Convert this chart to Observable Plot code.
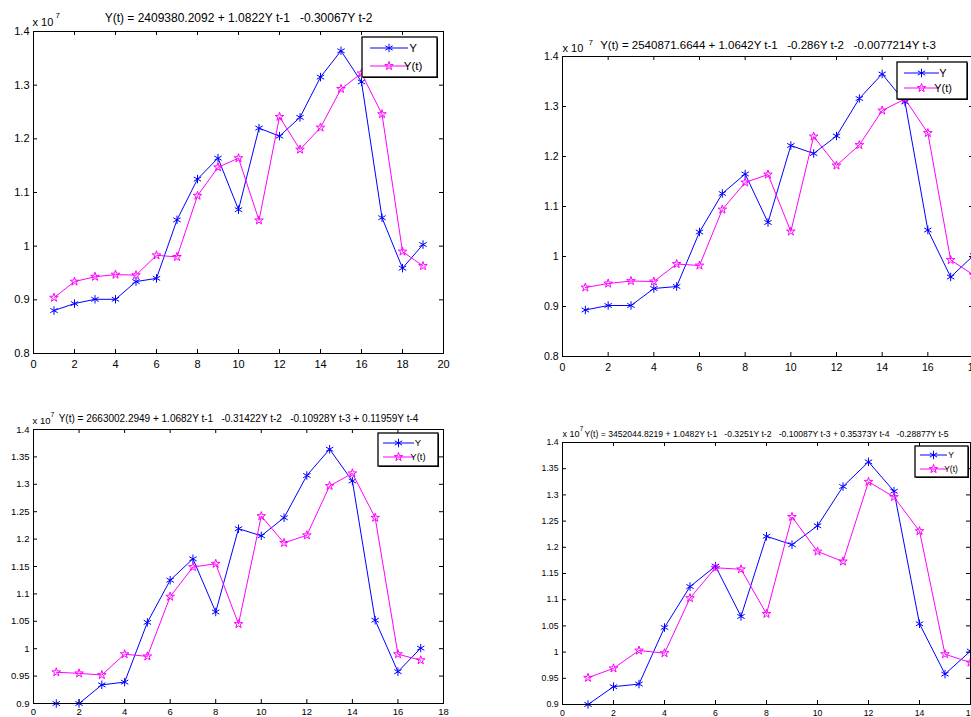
<!DOCTYPE html>
<html><head><meta charset="utf-8">
<script src="https://cdn.jsdelivr.net/npm/d3@7"></script>
<script src="https://cdn.jsdelivr.net/npm/@observablehq/plot@0.6"></script>
<style>
html,body{margin:0;padding:0;background:#fff;overflow:hidden;}
#wrap{position:relative;width:971px;height:717px;overflow:hidden;background:#fff;}
#wrap svg{position:absolute;}
#wrap svg text{white-space:pre;}
</style></head><body><div id="wrap"></div>
<script>
const FONT = "'Liberation Sans', Arial, Helvetica, sans-serif";
const seriesNames = ["Y", "Y(t)"];
const seriesColors = ["#0000ff", "#ff00ff"];
const exponentBase = "x 10";
const exponent = "7";

// Panel 1 (lag 2)
const title1 = "Y(t) = 2409380.2092 + 1.0822Y t-1   -0.30067Y t-2";
const Y1  = [0.880,0.893,0.901,0.901,0.934,0.940,1.049,1.125,1.164,1.068,1.220,1.205,1.240,1.315,1.364,1.306,1.053,0.959,1.003];
const Yt1 = [0.904,0.934,0.943,0.947,0.946,0.983,0.980,1.094,1.147,1.164,1.048,1.241,1.180,1.221,1.293,1.322,1.246,0.990,0.963];
const xTicks1 = [0,2,4,6,8,10,12,14,16,18,20];
const yTicks1 = [0.8,0.9,1.0,1.1,1.2,1.3,1.4];

// Panel 2 (lag 3)
const title2 = "Y(t) = 2540871.6644 + 1.0642Y t-1   -0.286Y t-2   -0.0077214Y t-3";
const Y2  = [0.893,0.902,0.902,0.936,0.940,1.049,1.126,1.165,1.068,1.222,1.206,1.241,1.316,1.365,1.309,1.053,0.959,1.002];
const Yt2 = [0.938,0.946,0.951,0.950,0.985,0.982,1.094,1.148,1.164,1.050,1.240,1.182,1.223,1.292,1.315,1.247,0.993,0.963];
const xTicks2 = [0,2,4,6,8,10,12,14,16,18];
const yTicks2 = [0.8,0.9,1.0,1.1,1.2,1.3,1.4];

// Panel 3 (lag 4)
const title3 = "Y(t) = 2663002.2949 + 1.0682Y t-1   -0.31422Y t-2   -0.10928Y t-3 + 0.11959Y t-4";
const Y3  = [0.900,0.900,0.934,0.939,1.048,1.125,1.164,1.067,1.219,1.206,1.239,1.316,1.364,1.306,1.052,0.958,1.001];
const Yt3 = [0.957,0.955,0.952,0.990,0.986,1.095,1.149,1.155,1.045,1.242,1.193,1.207,1.297,1.320,1.239,0.990,0.979];
const xTicks3 = [0,2,4,6,8,10,12,14,16,18];
const yTicks3 = [0.9,0.95,1.0,1.05,1.1,1.15,1.2,1.25,1.3,1.35,1.4];

// Panel 4 (lag 5)
const title4 = "Y(t) = 3452044.8219 + 1.0482Y t-1   -0.3251Y t-2   -0.10087Y t-3 + 0.35373Y t-4   -0.28877Y t-5";
const Y4  = [0.900,0.934,0.939,1.047,1.125,1.164,1.068,1.221,1.205,1.241,1.316,1.363,1.307,1.054,0.958,1.002];
const Yt4 = [0.951,0.969,1.003,0.998,1.103,1.161,1.158,1.073,1.258,1.192,1.173,1.325,1.296,1.231,0.996,0.980];
const xTicks4 = [0,2,4,6,8,10,12,14,16];
const yTicks4 = [0.9,0.95,1.0,1.05,1.1,1.15,1.2,1.25,1.3,1.35,1.4];

const wrap = document.getElementById("wrap");
const fmtY = d => String(+d.toFixed(2));

function panel(c) {
  const fw = c.width - c.mL - c.mR, fh = c.height - c.mT - c.mB;
  const tl = 4;
  const svg = Plot.plot({
    width: c.width, height: c.height,
    marginLeft: c.mL, marginTop: c.mT, marginRight: c.mR, marginBottom: c.mB,
    style: {fontFamily: FONT, fontSize: c.tickFont + "px", background: "transparent", overflow: "visible", maxWidth: "none", color: "#000"},
    x: {domain: c.xDomain},
    y: {domain: c.yDomain},
    marks: [
      Plot.ruleX(c.xTicks, {x: d => d, insetBottom: fh - tl, stroke: "#000"}),
      Plot.ruleX(c.xTicks, {x: d => d, insetTop: fh - tl, stroke: "#000"}),
      Plot.ruleY(c.yTicks, {y: d => d, insetRight: fw - tl, stroke: "#000"}),
      Plot.ruleY(c.yTicks, {y: d => d, insetLeft: fw - tl, stroke: "#000"}),
      Plot.axisX(c.xTicks, {tickSize: 0, tickPadding: c.xPad, tickFormat: d => String(d), label: null, fontSize: c.tickFont, fill: "#000"}),
      Plot.axisY(c.yTicks, {tickSize: 0, tickPadding: 4, tickFormat: fmtY, label: null, fontSize: c.tickFont, fill: "#000"}),
      Plot.line(c.Y, {x: (d, i) => i + 1, y: d => d, stroke: seriesColors[0], strokeWidth: 1}),
      Plot.dot(c.Y, {x: (d, i) => i + 1, y: d => d, symbol: "asterisk", r: 4, stroke: seriesColors[0], strokeWidth: 1}),
      Plot.line(c.Yt, {x: (d, i) => i + 1, y: d => d, stroke: seriesColors[1], strokeWidth: 1}),
      Plot.dot(c.Yt, {x: (d, i) => i + 1, y: d => d, symbol: "star", r: 2.7, stroke: seriesColors[1], fill: "none", strokeWidth: 1}),
      Plot.frame({stroke: "#000", strokeWidth: 1}),
      Plot.text([c.title], {text: d => d, frameAnchor: "top", lineAnchor: "bottom", dy: c.titleDy, fontSize: c.titleSize, fill: "#000"}),
      Plot.text([exponentBase], {text: d => d, frameAnchor: "top-left", textAnchor: "start", lineAnchor: "bottom", dx: c.eDx, dy: c.eDy, fontSize: c.eSize, fill: "#000"}),
      Plot.text([exponent], {text: d => d, frameAnchor: "top-left", textAnchor: "start", lineAnchor: "bottom", dx: c.pDx, dy: c.pDy, fontSize: c.pSize, fill: "#000"})
    ]
  });
  svg.style.left = c.left + "px";
  svg.style.top = c.top + "px";
  // legend
  const L = c.legend;
  const g = d3.select(svg).append("g");
  g.append("rect").attr("x", L.x + 1).attr("y", L.y + 1).attr("width", L.w).attr("height", L.h)
    .attr("fill", "#000");
  g.append("rect").attr("x", L.x).attr("y", L.y).attr("width", L.w).attr("height", L.h)
    .attr("fill", "#fff").attr("stroke", "#000").attr("stroke-width", 1.3);
  const syms = [d3.symbol(d3.symbolAsterisk, Math.PI * 16), d3.symbol(d3.symbolStar, Math.PI * 2.7 * 2.7)];
  seriesNames.forEach((name, i) => {
    const yy = L.rows[i];
    g.append("line").attr("x1", L.lx1).attr("x2", L.lx2).attr("y1", yy).attr("y2", yy)
      .attr("stroke", seriesColors[i]).attr("stroke-width", 1);
    g.append("path").attr("d", syms[i]()).attr("transform", `translate(${(L.lx1 + L.lx2) / 2},${yy})`)
      .attr("fill", "none").attr("stroke", seriesColors[i]).attr("stroke-width", 1);
    g.append("text").attr("x", L.tx).attr("y", yy).attr("dy", "0.35em").attr("font-size", L.font)
      .attr("fill", "#000").text(name);
  });
  wrap.appendChild(svg);
}

panel({left: 0, top: 0, width: 460, height: 380, mL: 33, mT: 31, mR: 17, mB: 27,
  xDomain: [0, 20], yDomain: [0.8, 1.4], xTicks: xTicks1, yTicks: yTicks1, Y: Y1, Yt: Yt1,
  title: title1, titleSize: 12, titleDy: -10, tickFont: 11, xPad: 7,
  eDx: -1, eDy: -6, eSize: 11, pDx: 22, pDy: -14, pSize: 8,
  legend: {x: 362, y: 37, w: 75, h: 40, rows: [48, 66], lx1: 370, lx2: 408, tx: 413, font: 11.5}});

panel({left: 530, top: 30, width: 460, height: 350, mL: 32, mT: 26, mR: 17, mB: 24,
  xDomain: [0, 18], yDomain: [0.8, 1.4], xTicks: xTicks2, yTicks: yTicks2, Y: Y2, Yt: Yt2,
  title: title2, titleSize: 11.5, titleDy: -8, tickFont: 10.5, xPad: 7,
  eDx: 0, eDy: -5, eSize: 11, pDx: 26, pDy: -12, pSize: 8,
  legend: {x: 367, y: 32, w: 70, h: 37, rows: [43, 58], lx1: 374, lx2: 409, tx: 413, font: 11}});

panel({left: 0, top: 400, width: 460, height: 317, mL: 33, mT: 29, mR: 17, mB: 14,
  xDomain: [0, 18], yDomain: [0.9, 1.4], xTicks: xTicks3, yTicks: yTicks3, Y: Y3, Yt: Yt3,
  title: title3, titleSize: 10, titleDy: -8, tickFont: 9.5, xPad: 5,
  eDx: -1, eDy: -6, eSize: 9.5, pDx: 17, pDy: -13, pSize: 7,
  legend: {x: 378, y: 33, w: 60, h: 33, rows: [43, 57], lx1: 383, lx2: 414, tx: 418, font: 9.5}});

panel({left: 530, top: 420, width: 460, height: 297, mL: 32, mT: 22, mR: 20, mB: 13,
  xDomain: [0, 16], yDomain: [0.9, 1.4], xTicks: xTicks4, yTicks: yTicks4, Y: Y4, Yt: Yt4,
  title: title4, titleSize: 8.6, titleDy: -6, tickFont: 8.7, xPad: 5,
  eDx: 0, eDy: -6, eSize: 9, pDx: 17, pDy: -12, pSize: 7,
  legend: {x: 385, y: 26, w: 53, h: 31, rows: [35, 49], lx1: 390, lx2: 417, tx: 421, font: 8.5}});
</script></body></html>
